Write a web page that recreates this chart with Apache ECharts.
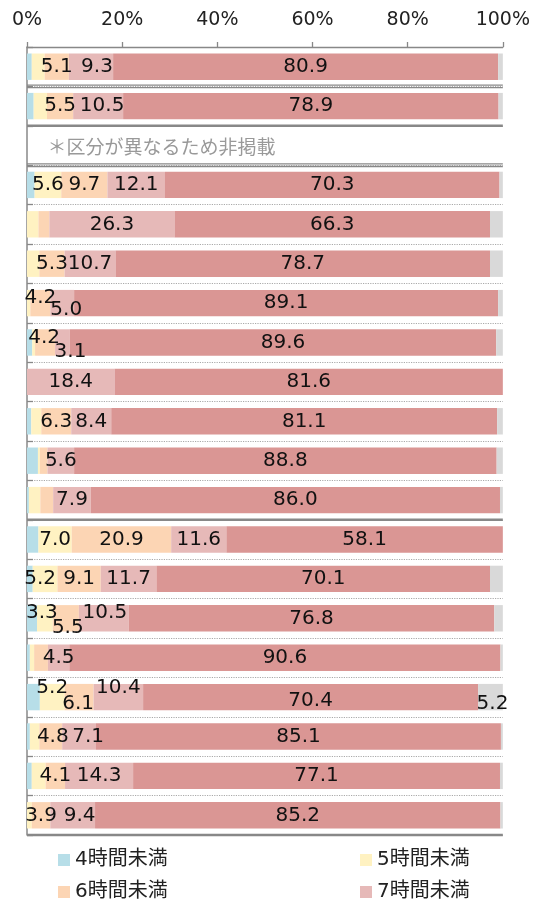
<!DOCTYPE html>
<html>
<head>
<meta charset="utf-8">
<script src="https://cdn.jsdelivr.net/npm/echarts@6/dist/echarts.min.js"></script>
<style>
	html, body { margin: 0; padding: 0; background: #fff; }
	#chart { width: 533px; height: 903px; }
</style>
</head>
<body>
<div id="chart"></div>
<script>
	// 行（上から順）。3行目は注記のみ
	var categories = ['r1', 'r2', 'r3', 'r4', 'r5', 'r6', 'r7', 'r8', 'r9', 'r10',
		'r11', 'r12', 'r13', 'r14', 'r15', 'r16', 'r17', 'r18', 'r19', 'r20'];
	var seriesNames = ['4時間未満', '5時間未満', '6時間未満', '7時間未満', '7時間以上', '無回答'];
	var xTicks = [0, 20, 40, 60, 80, 100];

	var lt4 = [1.0, 1.4, null, 1.6, 0, 0, 0, 1.1, 0, 0.9, 2.3, 0.4, 2.4, 1.2, 2.1, 0.6, 2.7, 0.6, 1.0, 0];
	var lt5 = [2.7, 2.8, null, 5.6, 2.4, 2.6, 0.7, 0.6, 0, 2.1, 0.4, 2.4, 7.0, 5.2, 3.3, 0.9, 5.2, 2.0, 2.9, 1.0];
	var lt6 = [5.1, 5.5, null, 9.7, 2.3, 5.3, 4.2, 4.2, 0, 6.3, 1.6, 2.7, 20.9, 9.1, 5.5, 2.9, 6.1, 4.8, 4.1, 3.9];
	var lt7 = [9.3, 10.5, null, 12.1, 26.3, 10.7, 5.0, 3.1, 18.4, 8.4, 5.6, 7.9, 11.6, 11.7, 10.5, 4.5, 10.4, 7.1, 14.3, 9.4];
	var ge7 = [80.9, 78.9, null, 70.3, 66.3, 78.7, 89.1, 89.6, 81.6, 81.1, 88.8, 86.0, 58.1, 70.1, 76.8, 90.6, 70.4, 85.1, 77.1, 85.2];
	var noAns = [1.0, 0.9, null, 0.7, 2.7, 2.7, 1.0, 1.4, 0, 1.2, 1.3, 0.6, 0, 2.7, 1.8, 0.5, 5.2, 0.4, 0.6, 0.5];

	var noteRow = 2;
	var noteText = '＊区分が異なるため非掲載';

	var colors = ['#b7dee8', '#fff2c2', '#fcd5b4', '#e6b9b8', '#da9694', '#d9d9d9'];

	// 区切り線: [行番号, 種類] 1=二重線, 2=太線（行の下側に引く）
	var heavyLines = [[0, 1], [1, 2], [2, 1], [11, 2], [19, 2]];

	// 重なったラベルの位置調整 "行-系列": [dx, dy]
	var labelShift = {
		'0-3': [6, 0], '1-3': [4, 0],
		'6-2': [0, -5], '6-3': [4, 7],
		'7-2': [-1, -5], '7-3': [8, 9],
		'13-1': [-5, 0],
		'14-1': [-3, -6], '14-2': [2, 9], '14-3': [1, -6],
		'16-1': [0, -9], '16-2': [-1, 7], '16-3': [0, -9], '16-4': [0, 4], '16-5': [2, 7],
		'17-2': [2, 0], '17-3': [9, 0],
		'19-3': [7, 0]
	};

	var font = "'DejaVu Sans', 'Noto Sans CJK JP', sans-serif";
	var allData = [lt4, lt5, lt6, lt7, ge7, noAns];

	var myChart = echarts.init(document.getElementById('chart'));

	var series = allData.map(function (arr, si) {
		return {
			name: seriesNames[si],
			type: 'bar',
			stack: 'total',
			barCategoryGap: '33%',
			itemStyle: { color: colors[si] },
			label: {
				show: true,
				position: 'inside',
				color: '#111',
				fontSize: 20,
				fontFamily: font,
				formatter: function (p) {
					return (p.value != null && p.value >= 3.05) ? p.value.toFixed(1) : '';
				}
			},
			data: arr.map(function (v, ri) {
				var sh = labelShift[ri + '-' + si];
				if (sh) {
					return { value: v, label: { offset: sh } };
				}
				return v;
			})
		};
	});

	// 注記（3行目）
	series.push({
		type: 'scatter',
		symbolSize: 1,
		itemStyle: { color: 'rgba(0,0,0,0)' },
		label: {
			show: true,
			position: 'right',
			offset: [15, 4],
			color: '#7f7f7f',
			fontSize: 19,
			fontFamily: font,
			formatter: function () { return noteText; }
		},
		silent: true,
		data: [[0, noteRow]]
	});

	// 太線・二重線
	series.push({
		type: 'custom',
		silent: true,
		clip: false,
		z: 5,
		encode: { x: 0, y: 1 },
		data: heavyLines.map(function (h) { return [0, h[0], h[1]]; }),
		renderItem: function (params, api) {
			var p = api.coord([0, api.value(1)]);
			var band = api.size([0, 1])[1];
			var y = p[1] + band / 2;
			var cs = params.coordSys;
			var x0 = cs.x, x1 = cs.x + cs.width;
			var style = { stroke: '#888', lineWidth: 1.3 };
			if (api.value(2) === 1) {
				return {
					type: 'group',
					children: [
						{ type: 'line', shape: { x1: x0, y1: y - 1.3, x2: x1, y2: y - 1.3 }, style: style },
						{ type: 'line', shape: { x1: x0, y1: y + 1.3, x2: x1, y2: y + 1.3 }, style: style }
					]
				};
			}
			return {
				type: 'line',
				shape: { x1: x0, y1: y, x2: x1, y2: y },
				style: { stroke: '#888', lineWidth: 2.5 }
			};
		}
	});

	// 凡例は2列×2行
	var legendPos = [[58, 850], [360, 850], [58, 882], [360, 882]];
	var legends = legendPos.map(function (pos, i) {
		return {
			left: pos[0], top: pos[1], padding: 0,
			icon: 'rect', itemWidth: 12, itemHeight: 12,
			textStyle: { fontSize: 20, color: '#222', fontFamily: font },
			data: [seriesNames[i]]
		};
	});

	var option = {
		animation: false,
		color: colors,
		grid: { left: 27, right: 30, top: 47, bottom: 68 },
		legend: legends,
		xAxis: {
			type: 'value',
			position: 'top',
			min: xTicks[0],
			max: xTicks[xTicks.length - 1],
			interval: xTicks[1] - xTicks[0],
			axisLine: { show: true, lineStyle: { color: '#888', width: 1.3 } },
			axisTick: { show: true, length: 5, lineStyle: { color: '#888', width: 1.3 } },
			axisLabel: { formatter: '{value}%', fontSize: 19, color: '#222', fontFamily: font, margin: 17 },
			splitLine: { show: false }
		},
		yAxis: {
			type: 'category',
			inverse: true,
			data: categories,
			axisLine: { show: true, lineStyle: { color: '#888', width: 1.5 } },
			axisTick: { show: true, inside: true, length: 6, lineStyle: { color: '#888', width: 1.3 } },
			axisLabel: { show: false },
			splitLine: { show: true, interval: 0, lineStyle: { color: '#aaa', type: 'dotted', width: 1.2 } }
		},
		series: series
	};

	myChart.setOption(option);
</script>
</body>
</html>
